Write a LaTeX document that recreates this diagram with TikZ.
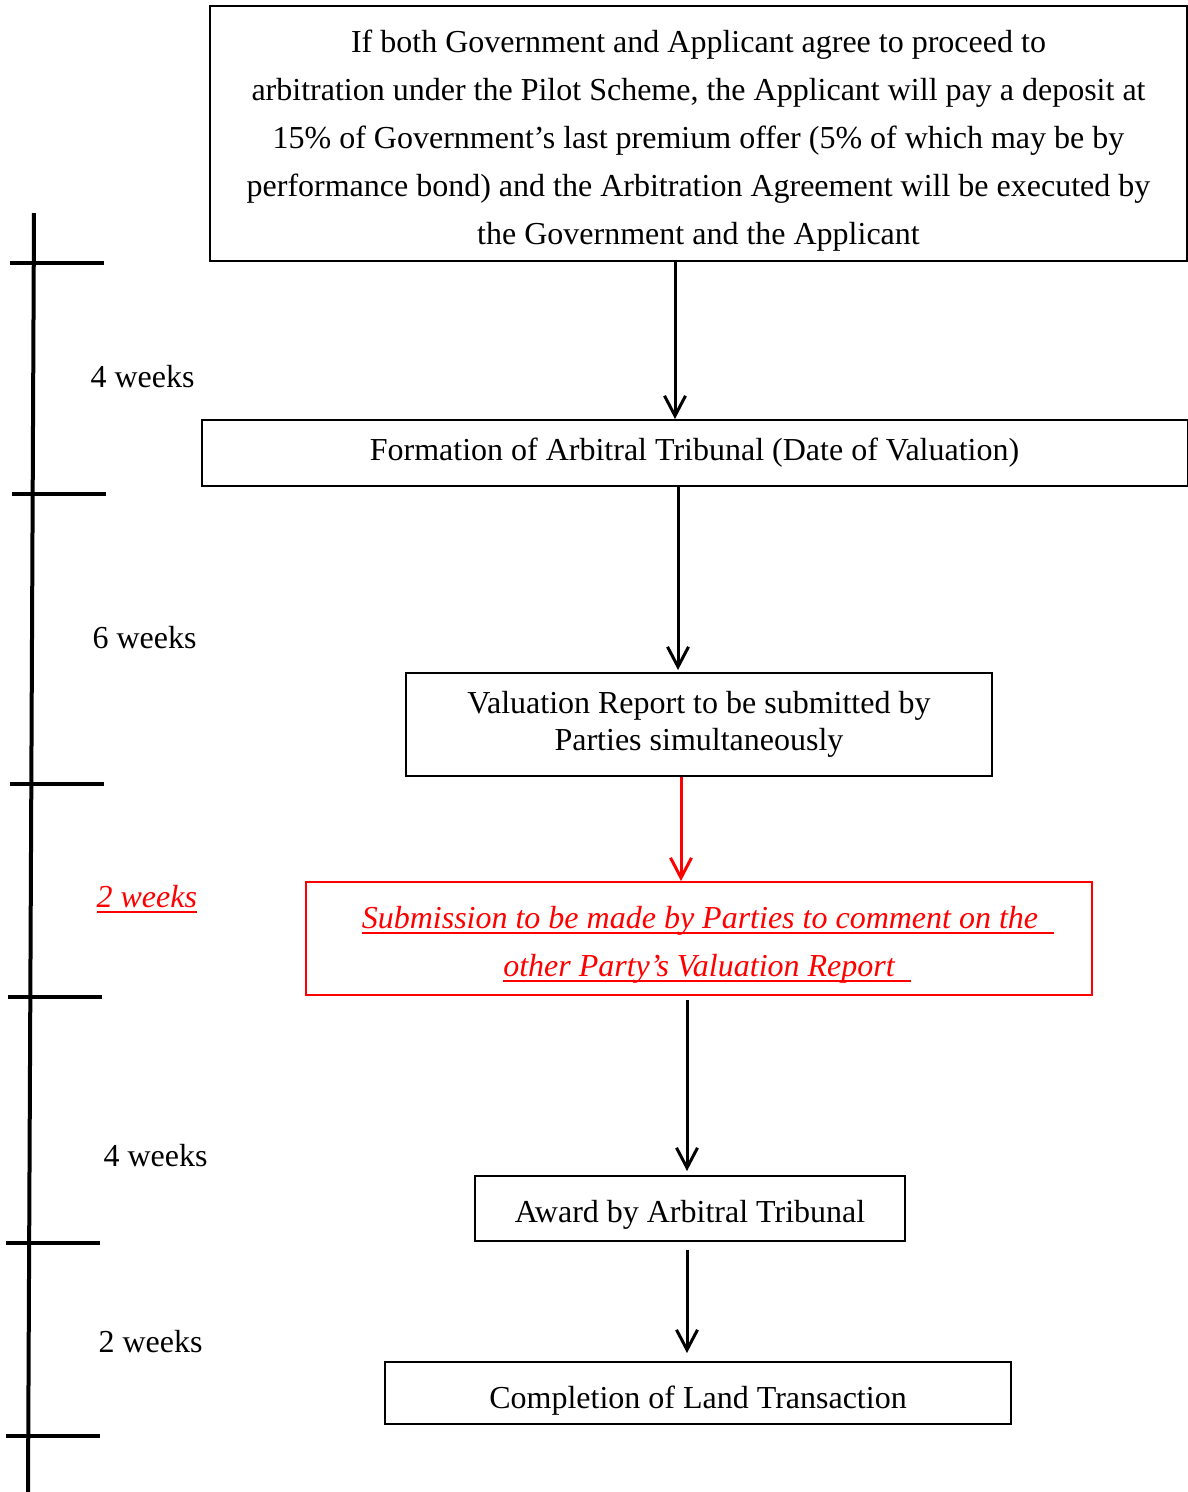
\documentclass[tikz,border=0pt]{standalone}
\usepackage{fontspec}
\setmainfont{Liberation Serif}
\newsavebox{\ulnbox}
\newcommand{\uln}[1]{\sbox{\ulnbox}{#1}\rlap{\rule[-5pt]{\wd\ulnbox}{2pt}}\usebox{\ulnbox}}
\newcommand{\topgap}[1]{\rule{0pt}{#1}}
\usetikzlibrary{arrows.meta, positioning}

\begin{document}
\begin{tikzpicture}
    [
        x=1pt, y=-1pt,
        box/.style={draw, line width=2pt, align=center, inner sep=0pt},
        redbox/.style={box, draw=red, text=red},
        wide/.style={font=\fontsize{32}{48}\selectfont},
        tight/.style={font=\fontsize{32}{37}\selectfont},
        weeks/.style={anchor=west, font=\fontsize{32}{37}\selectfont}
    ]
    \tikzstyle{line} = [draw, line width=3pt, -{Straight Barb[length=20pt, width=21pt]}]
    \useasboundingbox (0,0) rectangle (1188,1492);

    % time axis
    \draw[line width=4pt] (34,213) -- (28,1492);
    \foreach \xa/\ya in {10/263, 12/494, 10/784, 8/997, 6/1243, 6/1436}
        \draw[line width=4pt] (\xa,\ya) -- ++(94,0);

    \node[weeks] (w1) at (87,377) {4 weeks};
    \node[weeks] (w2) at (89,638) {6 weeks};
    \node[weeks, text=red] (w3) at (93,899) {\itshape\uln{2 weeks}};
    \node[weeks] (w4) at (100,1156) {4 weeks};
    \node[weeks] (w5) at (95,1342) {2 weeks};

    % steps
    \node[box, wide, minimum width=977pt, minimum height=255pt] (agree) at (698.5,133.5)
        {\topgap{37pt}If both Government and Applicant agree to proceed to\\
         arbitration under the Pilot Scheme, the Applicant will pay a deposit at\\
         15\% of Government’s last premium offer (5\% of which may be by\\
         performance bond) and the Arbitration Agreement will be executed by\\
         the Government and the Applicant};
    \node[box, tight, minimum width=986pt, minimum height=66pt] (form) at (694.5,453)
        {Formation of Arbitral Tribunal (Date of Valuation)};
    \node[box, tight, minimum width=586pt, minimum height=103pt] (valrep) at (699,724.5)
        {Valuation Report to be submitted by\\ Parties simultaneously};
    \node[redbox, wide, minimum width=786pt, minimum height=113pt] (submit) at (699,938.5)
        {\topgap{35pt}\hspace*{18pt}\itshape\uln{Submission to be made by Parties to comment on the\hspace{0.5em}}\\
         \hspace*{16pt}\itshape\uln{other Party’s Valuation Report\hspace{0.5em}}};
    \node[box, tight, minimum width=430pt, minimum height=65pt] (award) at (690,1208.5)
        {\topgap{35pt}Award by Arbitral Tribunal};
    \node[box, tight, minimum width=626pt, minimum height=62pt] (compl) at (698,1393)
        {\topgap{37pt}Completion of Land Transaction};

    \path[line] ([xshift=-23.5pt]agree.south) -- ([xshift=-23.5pt]agree.south |- form.north);
    \path[line] ([xshift=-16.5pt]form.south) -- ([xshift=-16.5pt, yshift=2pt]form.south |- valrep.north);
    \path[line, red] ([xshift=-18pt]valrep.south) -- ([xshift=-18pt]valrep.south |- submit.north);
    \path[line] ([xshift=-12pt, yshift=-4pt]submit.south) -- ([xshift=-12pt, yshift=4pt]submit.south |- award.north);
    \path[line] ([xshift=-3pt, yshift=-8pt]award.south) -- ([xshift=-3pt, yshift=8pt]award.south |- compl.north);

\end{tikzpicture}
\end{document}
